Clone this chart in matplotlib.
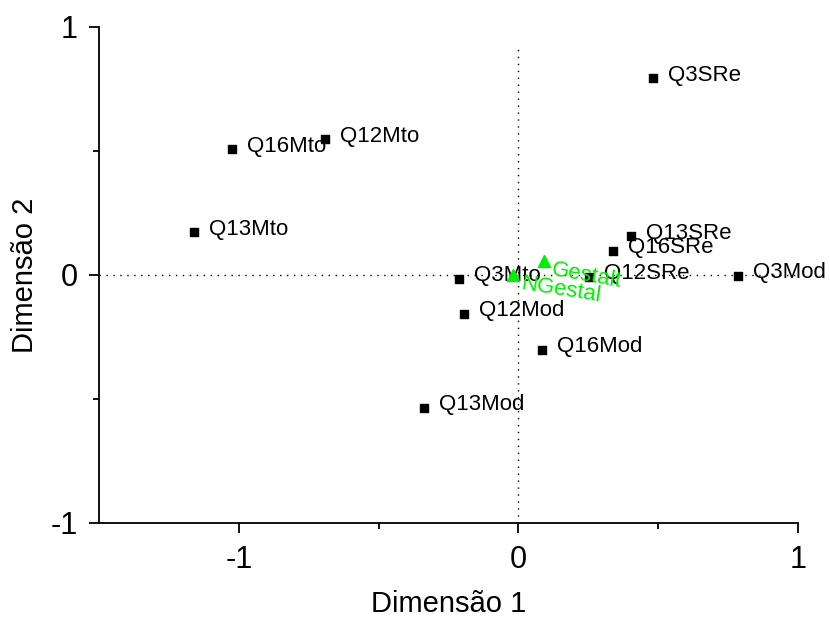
import numpy as np
import matplotlib
matplotlib.use("Agg")
import matplotlib.pyplot as plt

plt.rcParams['font.family'] = ['Liberation Sans', 'DejaVu Sans']
plt.rcParams['axes.unicode_minus'] = False

# category points (black squares)
catLabels = ["Q3SRe", "Q16Mto", "Q12Mto", "Q13Mto", "Q13SRe", "Q16SRe",
             "Q12SRe", "Q3Mto", "Q3Mod", "Q12Mod", "Q16Mod", "Q13Mod"]
catDim1 = [0.482, -1.025, -0.693, -1.161, 0.404, 0.339,
           0.254, -0.211, 0.786, -0.196, 0.086, -0.339]
catDim2 = [0.794, 0.508, 0.548, 0.173, 0.157, 0.097,
           -0.008, -0.016, -0.004, -0.157, -0.302, -0.536]

# group points (green triangles)
grpLabels = ["Gestalt", "NGestal"]
grpDim1 = [0.093, -0.018]
grpDim2 = [0.056, 0.0]
grpRot = [-10, -9]

fig = plt.figure(figsize=(8.3, 6.19), dpi=100)
ax = fig.add_axes([99/830, 1 - 523/619, (798-99)/830, (523-27)/619])

ax.axhline(0, color="black", linestyle=(0, (1, 4)), linewidth=1.0)
ax.vlines(0, -1, 0.915, color="black", linestyle=(0, (1, 4)), linewidth=1.0)

ax.scatter(catDim1, catDim2, marker="s", s=34, color="black", zorder=3)
for lbl, x, y in zip(catLabels, catDim1, catDim2):
    ax.annotate(lbl, (x, y), xytext=(15, 3), textcoords="offset pixels",
                fontsize=16, va="center", ha="left", color="black")

green = "#00ee00"
ax.scatter(grpDim1, grpDim2, marker="^", s=75, color=green, zorder=3)
for lbl, x, y, r in zip(grpLabels, grpDim1, grpDim2, grpRot):
    ax.annotate(lbl, (x, y), xytext=(9, 2), textcoords="offset pixels",
                fontsize=16, ha="left", va="top", color=green,
                rotation=r, rotation_mode="anchor")

ax.set_xlim(-1.5, 1)
ax.set_ylim(-1, 1)
ax.set_xticks([-1, 0, 1])
ax.set_yticks([-1, 0, 1])
ax.set_xticks([-0.5, 0.5], minor=True)
ax.set_yticks([-0.5, 0.5], minor=True)
ax.tick_params(which="major", length=7.5, width=1.3, labelsize=22, pad=8)
ax.tick_params(which="minor", length=4, width=1.3)
for s in ["top", "right"]:
    ax.spines[s].set_visible(False)
for s in ["left", "bottom"]:
    ax.spines[s].set_linewidth(1.3)

ax.set_xlabel("Dimensão 1", fontsize=21, labelpad=11)
ax.set_ylabel("Dimensão 2", fontsize=21, labelpad=8)

plt.savefig("out.png", dpi=100)
plt.close()
